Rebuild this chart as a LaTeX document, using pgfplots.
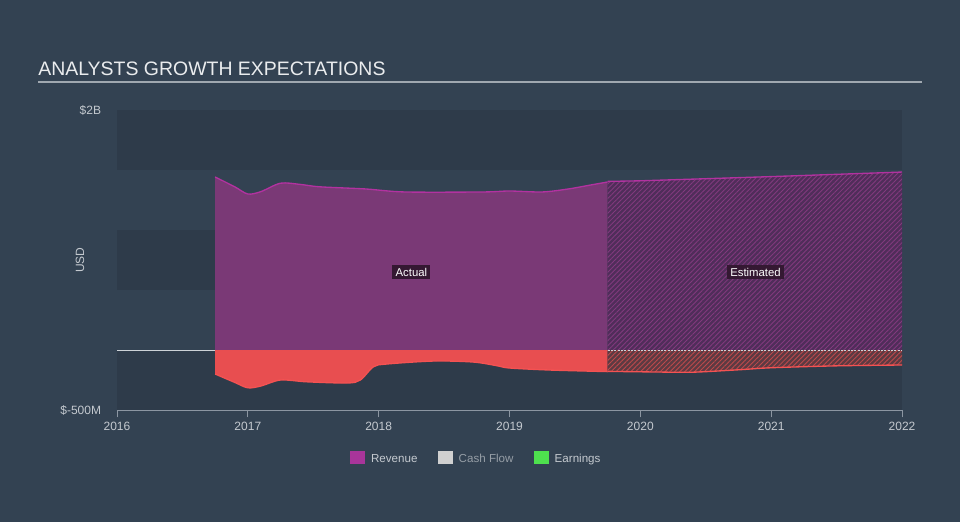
\documentclass[border=0pt]{standalone}
\usepackage{pgfplots}
\pgfplotsset{compat=1.18}
\usepackage{fontspec}
\setmainfont{Liberation Sans}
\usetikzlibrary{patterns.meta}
\definecolor{bg}{RGB}{51,66,82}
\definecolor{band}{RGB}{46,59,74}
\definecolor{revfill}{RGB}{122,57,118}
\definecolor{revline}{RGB}{178,50,160}
\definecolor{revest}{RGB}{80,45,90}
\definecolor{revhatch}{RGB}{130,58,126}
\definecolor{earnfill}{RGB}{232,78,80}
\definecolor{earnline}{RGB}{244,82,82}
\definecolor{earnest}{RGB}{92,58,66}
\definecolor{earnhatch}{RGB}{190,74,76}
\definecolor{txt}{RGB}{196,201,207}
\definecolor{axisgray}{RGB}{140,150,162}
\definecolor{zerol}{RGB}{205,210,215}
\definecolor{tagbg}{RGB}{52,24,50}
\definecolor{revsw}{RGB}{168,53,154}
\definecolor{cfsw}{RGB}{208,208,208}
\definecolor{earnsw}{RGB}{78,224,78}
\definecolor{titlec}{RGB}{234,236,238}
\definecolor{uline}{RGB}{160,168,176}
\definecolor{cftxt}{RGB}{150,158,166}
\begin{document}
\begin{tikzpicture}
\begin{scope}[x=0.75pt,y=0.75pt]
\fill[bg] (0,0) rectangle (960,522);
\node[anchor=base west, inner sep=0pt, font=\fontsize{14.6}{18}\selectfont, text=titlec] at (38,446) {ANALYSTS GROWTH EXPECTATIONS};
\draw[uline, line width=1.2pt] (38,440) -- (922,440);
\node[rotate=90, font=\fontsize{9}{10}\selectfont, text=txt] at (80,262) {USD};
\end{scope}
\begin{axis}[
  at={(87.75pt,84pt)}, anchor=south west,
  width=588.75pt, height=225pt, scale only axis,
  xmin=2016, xmax=2022, ymin=-0.5, ymax=2,
  axis x line*=bottom, axis y line*=left,
  x axis line style={-, draw=axisgray, line width=0.75pt},
  y axis line style={draw=none},
  xtick={2016,2017,2018,2019,2020,2021,2022},
  xticklabels={2016,2017,2018,2019,2020,2021,2022},
  ytick={-0.5,2}, yticklabels={\$-500M,\$2B},
  tick align=outside,
  x tick style={draw=axisgray, line width=0.75pt},
  major tick length=5.5pt,
  y tick style={draw=none},
  tick label style={font=\fontsize{9}{10}\selectfont, text=txt},
  yticklabel style={xshift=-3pt},
  /pgf/number format/assume math mode=true,
  clip=false,
  legend columns=3,
  legend style={at={(0.458,-0.163)}, anchor=center, draw=none, fill=none,
    font=\fontsize{8.7}{10}\selectfont, text=txt,
    /tikz/every odd column/.append style={column sep=3pt},
    /tikz/every even column/.append style={column sep=13pt}},
  legend cell align=left,
]
\fill[band] (axis cs:2016,1.5) rectangle (axis cs:2022,2);
\fill[band] (axis cs:2016,0.5) rectangle (axis cs:2022,1);
\fill[band] (axis cs:2016,-0.5) rectangle (axis cs:2022,0);
\draw[zerol, line width=0.75pt] (axis cs:2016,0) -- (axis cs:2022,0);

% Revenue actual
\addplot[forget plot, draw=none, fill=revfill, smooth] coordinates {
(2016.75,1.442) (2016.9,1.36) (2017.0,1.30) (2017.1,1.32) (2017.25,1.39) (2017.4,1.38)
(2017.55,1.36) (2017.9,1.342) (2018.2,1.317) (2018.8,1.317) (2019.0,1.325) (2019.25,1.317)
(2019.45,1.342) (2019.62,1.375) (2019.75,1.40)} \closedcycle;
% Earnings actual
\addplot[forget plot, draw=none, fill=earnfill, smooth] coordinates {
(2016.75,-0.20) (2016.9,-0.27) (2017.0,-0.315) (2017.1,-0.30) (2017.25,-0.25) (2017.45,-0.265)
(2017.76,-0.275) (2017.86,-0.25) (2017.96,-0.14) (2018.06,-0.117) (2018.42,-0.092) (2018.72,-0.10)
(2018.9,-0.13) (2019.0,-0.15) (2019.31,-0.167) (2019.75,-0.18)} \closedcycle;
% Revenue estimated
\addplot[forget plot, draw=none, fill=revest] coordinates {
(2019.75,1.405) (2020,1.41) (2021,1.445) (2022,1.483)} \closedcycle;
\addplot[forget plot, draw=none, pattern={Lines[angle=45,distance=2.6pt,line width=0.65pt]}, pattern color=revhatch] coordinates {
(2019.75,1.405) (2020,1.41) (2021,1.445) (2022,1.483)} \closedcycle;
% Earnings estimated
\addplot[forget plot, draw=none, fill=earnest, smooth] coordinates {
(2019.75,-0.178) (2020.1,-0.183) (2020.4,-0.185) (2020.75,-0.165) (2021,-0.148) (2021.5,-0.132) (2022,-0.125)} \closedcycle;
\addplot[forget plot, draw=none, smooth, pattern={Lines[angle=45,distance=2.6pt,line width=0.65pt]}, pattern color=earnhatch] coordinates {
(2019.75,-0.178) (2020.1,-0.183) (2020.4,-0.185) (2020.75,-0.165) (2021,-0.148) (2021.5,-0.132) (2022,-0.125)} \closedcycle;
\draw[zerol, line width=0.6pt, dash pattern=on 1.5pt off 1pt] (axis cs:2019.75,0) -- (axis cs:2022,0);

% Lines
\addplot[forget plot, revline, line width=1pt, smooth] coordinates {
(2016.75,1.442) (2016.9,1.36) (2017.0,1.30) (2017.1,1.32) (2017.25,1.39) (2017.4,1.38)
(2017.55,1.36) (2017.9,1.342) (2018.2,1.317) (2018.8,1.317) (2019.0,1.325) (2019.25,1.317)
(2019.45,1.342) (2019.62,1.375) (2019.75,1.40)};
\addplot[forget plot, revline, line width=1pt] coordinates {
(2019.75,1.405) (2020,1.41) (2021,1.445) (2022,1.483)};
\addplot[forget plot, earnline, line width=1pt, smooth] coordinates {
(2016.75,-0.20) (2016.9,-0.27) (2017.0,-0.315) (2017.1,-0.30) (2017.25,-0.25) (2017.45,-0.265)
(2017.76,-0.275) (2017.86,-0.25) (2017.96,-0.14) (2018.06,-0.117) (2018.42,-0.092) (2018.72,-0.10)
(2018.9,-0.13) (2019.0,-0.15) (2019.31,-0.167) (2019.75,-0.18)};
\addplot[forget plot, earnline, line width=1pt, smooth] coordinates {
(2019.75,-0.178) (2020.1,-0.183) (2020.4,-0.185) (2020.75,-0.165) (2021,-0.148) (2021.5,-0.132) (2022,-0.125)};

\node[fill=tagbg, text=white, inner sep=2.5pt, font=\fontsize{8.5}{10}\selectfont] at (axis cs:2018.25,0.65) {Actual};
\node[fill=tagbg, text=white, inner sep=2.5pt, font=\fontsize{8.5}{10}\selectfont] at (axis cs:2020.88,0.65) {Estimated};

\addlegendimage{legend image code/.code={\fill[revsw] (0pt,-3pt) rectangle (10.5pt,6pt);}}
\addlegendentry{Revenue}
\addlegendimage{legend image code/.code={\fill[cfsw] (0pt,-3pt) rectangle (10.5pt,6pt);}}
\addlegendentry{\textcolor{cftxt}{Cash Flow}}
\addlegendimage{legend image code/.code={\fill[earnsw] (0pt,-3pt) rectangle (10.5pt,6pt);}}
\addlegendentry{Earnings}
\end{axis}
\end{tikzpicture}
\end{document}
